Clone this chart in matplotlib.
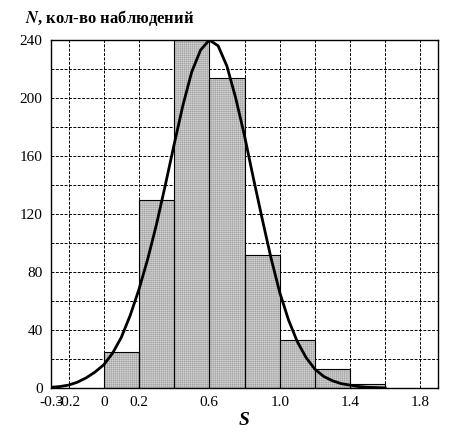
import numpy as np
import matplotlib.pyplot as plt

plt.rcParams['font.family'] = ['Liberation Serif', 'DejaVu Serif']
plt.rcParams['mathtext.fontset'] = 'stix'
plt.rcParams['hatch.color'] = '#9a9a9a'
plt.rcParams['hatch.linewidth'] = 0.3

# histogram bins
bin_left = [0.0, 0.2, 0.4, 0.6, 0.8, 1.0, 1.2, 1.4]
counts = [25, 130, 240, 214, 92, 33, 13, 3]
bin_width = 0.2

# fitted curve
curve_x = [-0.3, -0.25, -0.2, -0.15, -0.1, -0.05, 0.0, 0.05, 0.1, 0.15, 0.2, 0.25, 0.3,
           0.35, 0.4, 0.45, 0.5, 0.55, 0.6, 0.65, 0.7, 0.75, 0.8, 0.85, 0.9, 0.95,
           1.0, 1.05, 1.1, 1.15, 1.2, 1.25, 1.3, 1.35, 1.4, 1.45, 1.5, 1.6]
curve_y = [0.5, 1, 2, 4, 7, 11, 16, 24, 35, 50, 68, 89, 113, 140, 168, 195, 218, 233,
           240, 236, 222, 200, 174, 145, 117, 90, 66, 47, 32, 21, 13, 8, 5, 3, 2, 1, 0.5, 0]

xtick_vals = [-0.3, -0.2, 0, 0.2, 0.6, 1.0, 1.4, 1.8]
xtick_labels = ['-0.3', '-0.2', '0', '0.2', '0.6', '1.0', '1.4', '1.8']

fig = plt.figure(figsize=(4.70, 4.33), dpi=100)
ax = fig.add_axes([51 / 470, 1 - 388 / 433, 387 / 470, 348 / 433])

ax.bar(bin_left, counts, width=bin_width, align='edge', facecolor='#d2d2d2',
       edgecolor='#9a9a9a', linewidth=0, hatch='++++++++', zorder=2)
ax.bar(bin_left, counts, width=bin_width, align='edge', facecolor='none',
       edgecolor='black', linewidth=0.8, zorder=3)
ax.plot(curve_x, curve_y, color='black', lw=2, zorder=4)

ax.set_xlim(-0.3, 1.9)
ax.set_ylim(0, 240)
ax.set_xticks(np.arange(-0.2, 1.81, 0.2), minor=True)
ax.set_xticks(xtick_vals)
ax.set_xticklabels(xtick_labels)
ax.set_yticks(range(0, 241, 40))
ax.set_yticks(range(0, 241, 20), minor=True)
ax.grid(True, which='both', color='black', linestyle=(0, (3, 1.5)), linewidth=0.7, zorder=0)
ax.set_axisbelow(True)
ax.tick_params(which='both', length=0, labelsize=11, pad=6)
for s in ax.spines.values():
    s.set_linewidth(1.0)

ax.set_xlabel('S', fontsize=14, fontweight='bold', style='italic', labelpad=2)
fig.text(25 / 470, 1 - 18 / 433, r'$\mathbfit{N}$, кол-во наблюдений', fontsize=12,
         fontweight='bold', va='center')

fig.savefig('out.png', dpi=100)
